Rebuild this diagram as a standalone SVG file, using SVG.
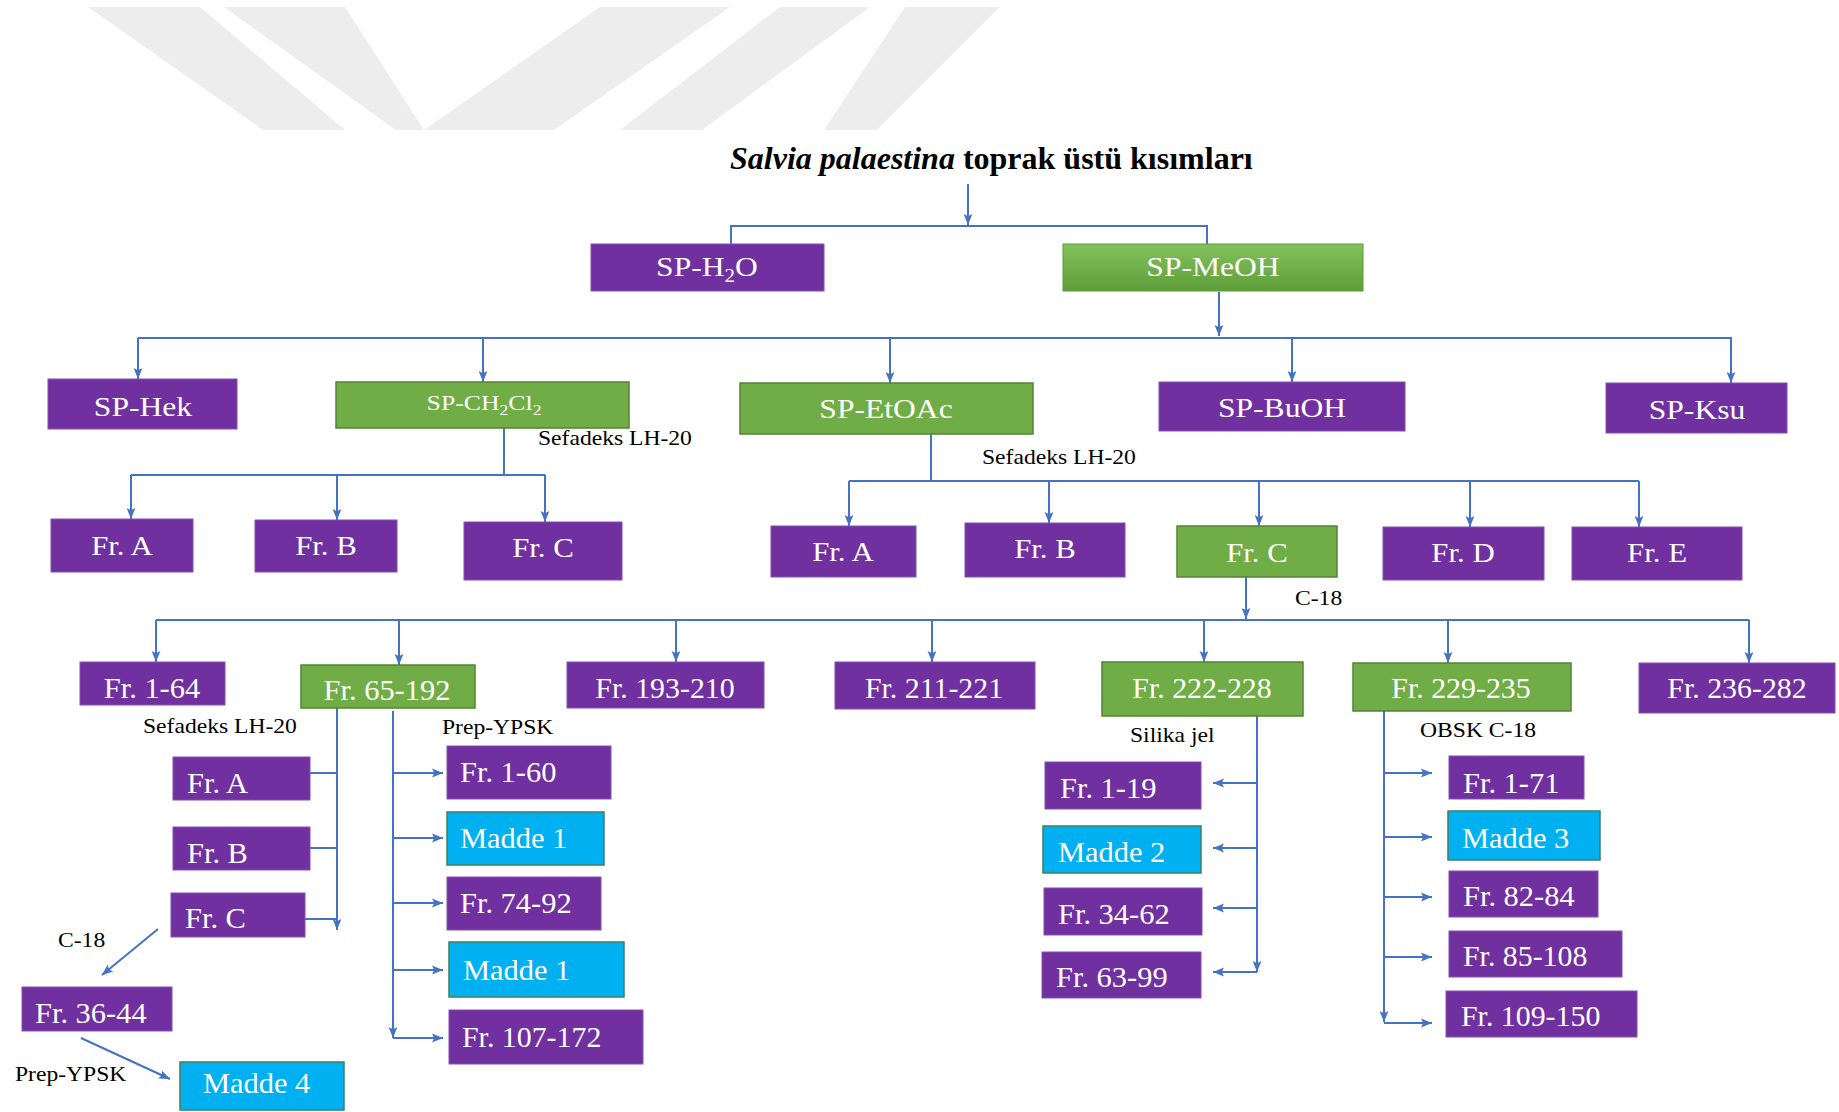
<svg xmlns="http://www.w3.org/2000/svg" width="1839" height="1112" viewBox="0 0 1839 1112">
<defs>
<marker id="ah" viewBox="0 0 10 10" refX="10" refY="5" markerWidth="11" markerHeight="11" markerUnits="userSpaceOnUse" orient="auto">
<path d="M0,1 L10,5 L0,9 L2,5 z" fill="#4472C4"/>
</marker>
<linearGradient id="gG" x1="0" y1="0" x2="0" y2="1">
<stop offset="0" stop-color="#84c25c"/>
<stop offset="1" stop-color="#5f9d3a"/>
</linearGradient>
</defs>
<style>
.p{fill:#7030A0;stroke:#8450b0;stroke-width:1}
.g{fill:#70AD47;stroke:#548235;stroke-width:1.5}
.c{fill:#00B0F0;stroke:#3f7f62;stroke-width:1.5}
text{font-family:"Liberation Serif","Times New Roman",serif}
.w{fill:#fff}
.m{text-anchor:middle}
.t1{font-size:27px}
.t3{font-size:28px}
.t4{font-size:29px}
.lb{font-size:20px;fill:#000}
.cn path{stroke:#4472C4;stroke-width:2;fill:none}
.a{marker-end:url(#ah)}
.wm{fill:#ededed}
</style>
<rect width="1839" height="1112" fill="#fff"/>
<g id="watermark">
<polygon class="wm" points="88,7 200,7 345,130 263,130"/>
<polygon class="wm" points="224,7 345,7 424,130 396,130"/>
<polygon class="wm" points="600,7 730,7 554,130 424,130"/>
<polygon class="wm" points="780,7 870,7 702,130 620,130"/>
<polygon class="wm" points="905,7 1000,7 877,130 824,130"/>
</g>
<text id="title" x="730" y="169" font-size="32" font-weight="bold" fill="#000"><tspan font-style="italic">Salvia palaestina</tspan> toprak üstü kısımları</text>

<g class="cn" id="connectors">
<path class="a" d="M968,184 V225"/>
<path d="M731,244 V226 H1207 V244"/>
<path class="a" d="M1219,292 V336"/>
<path d="M138,338 H1732"/>
<path class="a" d="M138,338 V379"/>
<path class="a" d="M483,338 V382"/>
<path class="a" d="M890,338 V383"/>
<path class="a" d="M1292,338 V382"/>
<path class="a" d="M1731,338 V383"/>
<path d="M504,428 V475 M131,475 H545"/>
<path class="a" d="M131,475 V519"/>
<path class="a" d="M337,475 V520"/>
<path class="a" d="M545,475 V522"/>
<path d="M931,434 V481 M849,481 H1639"/>
<path class="a" d="M849,481 V526"/>
<path class="a" d="M1049,481 V523"/>
<path class="a" d="M1259,481 V526"/>
<path class="a" d="M1470,481 V527"/>
<path class="a" d="M1639,481 V527"/>
<path class="a" d="M1246,577 V619"/>
<path d="M156,620 H1749"/>
<path class="a" d="M156,620 V662"/>
<path class="a" d="M399,620 V665"/>
<path class="a" d="M676,620 V662"/>
<path class="a" d="M932,620 V662"/>
<path class="a" d="M1204,620 V662"/>
<path class="a" d="M1448,620 V663"/>
<path class="a" d="M1749,620 V663"/>
<path class="a" d="M337,708 V930"/>
<path d="M310,773 H337 M310,848 H337 M305,919 H337"/>
<path class="a" d="M158,929 L102,975"/>
<path class="a" d="M81,1038 L170,1079"/>
<path class="a" d="M393,711 V1038"/>
<path class="a" d="M393,773 H443"/>
<path class="a" d="M393,838 H443"/>
<path class="a" d="M393,903 H443"/>
<path class="a" d="M393,970 H443"/>
<path class="a" d="M393,1038 H443"/>
<path class="a" d="M1257,716 V972"/>
<path class="a" d="M1257,783 H1213"/>
<path class="a" d="M1257,848 H1213"/>
<path class="a" d="M1257,908 H1213"/>
<path class="a" d="M1257,972 H1213"/>
<path class="a" d="M1384,711 V1022"/>
<path class="a" d="M1384,773 H1432"/>
<path class="a" d="M1384,837 H1432"/>
<path class="a" d="M1384,897 H1432"/>
<path class="a" d="M1384,957 H1432"/>
<path class="a" d="M1384,1023 H1432"/>
</g>

<g id="labels">
<text class="lb" transform="translate(538,445) scale(1.18,1)">Sefadeks LH-20</text>
<text class="lb" transform="translate(982,464) scale(1.18,1)">Sefadeks LH-20</text>
<text class="lb" transform="translate(1295,605) scale(1.18,1)">C-18</text>
<text class="lb" transform="translate(143,733) scale(1.18,1)">Sefadeks LH-20</text>
<text class="lb" transform="translate(442,734) scale(1.18,1)">Prep-YPSK</text>
<text class="lb" transform="translate(58,947) scale(1.18,1)">C-18</text>
<text class="lb" transform="translate(15,1081) scale(1.18,1)">Prep-YPSK</text>
<text class="lb" transform="translate(1130,742) scale(1.18,1)">Silika jel</text>
<text class="lb" transform="translate(1420,737) scale(1.18,1)">OBSK C-18</text>
</g>

<g id="n-h2o"><rect class="p" x="591" y="244" width="233" height="47"/><text class="w t1 m" transform="translate(707,276) scale(1.17,1)">SP-H<tspan font-size="18" dy="6">2</tspan><tspan dy="-6">O</tspan></text></g>
<g id="n-meoh"><rect x="1063" y="244" width="300" height="47" fill="url(#gG)" stroke="#5e9a3a" stroke-width="1"/><text class="w t1 m" transform="translate(1213,276) scale(1.17,1)">SP-MeOH</text></g>

<g id="n-hek"><rect class="p" x="48" y="379" width="189" height="50"/><text class="w t1 m" transform="translate(143,416) scale(1.17,1)">SP-Hek</text></g>
<g id="n-ch2cl2"><rect class="g" x="336" y="382" width="293" height="46"/><text class="w m" font-size="22" transform="translate(484,410) scale(1.17,1)">SP-CH<tspan font-size="15" dy="5">2</tspan><tspan dy="-5">Cl</tspan><tspan font-size="15" dy="5">2</tspan></text></g>
<g id="n-etoac"><rect class="g" x="740" y="383" width="293" height="51"/><text class="w t1 m" transform="translate(886,418) scale(1.17,1)">SP-EtOAc</text></g>
<g id="n-buoh"><rect class="p" x="1159" y="382" width="246" height="49"/><text class="w t1 m" transform="translate(1282,417) scale(1.17,1)">SP-BuOH</text></g>
<g id="n-ksu"><rect class="p" x="1606" y="383" width="181" height="50"/><text class="w t1 m" transform="translate(1697,419) scale(1.17,1)">SP-Ksu</text></g>

<g id="n-d-a"><rect class="p" x="51" y="519" width="142" height="53"/><text class="w t3 m" transform="translate(122,555) scale(1.1,1)">Fr. A</text></g>
<g id="n-d-b"><rect class="p" x="255" y="520" width="142" height="52"/><text class="w t3 m" transform="translate(326,555) scale(1.1,1)">Fr. B</text></g>
<g id="n-d-c"><rect class="p" x="464" y="522" width="158" height="58"/><text class="w t3 m" transform="translate(543,557) scale(1.1,1)">Fr. C</text></g>

<g id="n-e-a"><rect class="p" x="771" y="526" width="145" height="51"/><text class="w t3 m" transform="translate(843,561) scale(1.1,1)">Fr. A</text></g>
<g id="n-e-b"><rect class="p" x="965" y="523" width="160" height="54"/><text class="w t3 m" transform="translate(1045,558) scale(1.1,1)">Fr. B</text></g>
<g id="n-e-c"><rect class="g" x="1177" y="526" width="160" height="51"/><text class="w t3 m" transform="translate(1257,562) scale(1.1,1)">Fr. C</text></g>
<g id="n-e-d"><rect class="p" x="1383" y="527" width="161" height="53"/><text class="w t3 m" transform="translate(1463,562) scale(1.1,1)">Fr. D</text></g>
<g id="n-e-e"><rect class="p" x="1572" y="527" width="170" height="53"/><text class="w t3 m" transform="translate(1657,562) scale(1.1,1)">Fr. E</text></g>

<g id="n-1-64"><rect class="p" x="80" y="662" width="145" height="43"/><text class="w t4 m" transform="translate(152,698) scale(1.05,1)">Fr. 1-64</text></g>
<g id="n-65-192"><rect class="g" x="301" y="665" width="174" height="43"/><text class="w t4 m" transform="translate(387,700) scale(1.05,1)">Fr. 65-192</text></g>
<g id="n-193-210"><rect class="p" x="567" y="662" width="197" height="46"/><text class="w t4 m" transform="translate(665,698) scale(1.03,1)">Fr. 193-210</text></g>
<g id="n-211-221"><rect class="p" x="835" y="662" width="200" height="47"/><text class="w t4 m" transform="translate(934,698) scale(1.03,1)">Fr. 211-221</text></g>
<g id="n-222-228"><rect class="g" x="1102" y="662" width="201" height="54"/><text class="w t4 m" transform="translate(1202,698) scale(1.03,1)">Fr. 222-228</text></g>
<g id="n-229-235"><rect class="g" x="1353" y="663" width="218" height="48"/><text class="w t4 m" transform="translate(1461,698) scale(1.03,1)">Fr. 229-235</text></g>
<g id="n-236-282"><rect class="p" x="1639" y="663" width="196" height="50"/><text class="w t4 m" transform="translate(1737,698) scale(1.03,1)">Fr. 236-282</text></g>

<g id="n-s-a"><rect class="p" x="173" y="757" width="137" height="43"/><text class="w t4" transform="translate(187,793) scale(1.05,1)">Fr. A</text></g>
<g id="n-s-b"><rect class="p" x="173" y="827" width="137" height="43"/><text class="w t4" transform="translate(187,863) scale(1.05,1)">Fr. B</text></g>
<g id="n-s-c"><rect class="p" x="171" y="893" width="134" height="44"/><text class="w t4" transform="translate(185,928) scale(1.05,1)">Fr. C</text></g>
<g id="n-36-44"><rect class="p" x="22" y="987" width="150" height="44"/><text class="w t4" transform="translate(35,1023) scale(1.05,1)">Fr. 36-44</text></g>
<g id="n-madde4"><rect class="c" x="180" y="1062" width="164" height="48"/><text class="w t4" transform="translate(203,1093) scale(1.05,1)">Madde 4</text></g>

<g id="n-1-60"><rect class="p" x="447" y="746" width="164" height="53"/><text class="w t4" transform="translate(460,782) scale(1.05,1)">Fr. 1-60</text></g>
<g id="n-madde1a"><rect class="c" x="447" y="812" width="157" height="53"/><text class="w t4" transform="translate(460,848) scale(1.05,1)">Madde 1</text></g>
<g id="n-74-92"><rect class="p" x="447" y="877" width="154" height="53"/><text class="w t4" transform="translate(460,913) scale(1.05,1)">Fr. 74-92</text></g>
<g id="n-madde1b"><rect class="c" x="449" y="942" width="175" height="55"/><text class="w t4" transform="translate(463,980) scale(1.05,1)">Madde 1</text></g>
<g id="n-107-172"><rect class="p" x="449" y="1010" width="194" height="54"/><text class="w t4" transform="translate(462,1047) scale(1.03,1)">Fr. 107-172</text></g>

<g id="n-1-19"><rect class="p" x="1045" y="762" width="156" height="47"/><text class="w t4" transform="translate(1060,798) scale(1.05,1)">Fr. 1-19</text></g>
<g id="n-madde2"><rect class="c" x="1043" y="826" width="158" height="47"/><text class="w t4" transform="translate(1058,862) scale(1.05,1)">Madde 2</text></g>
<g id="n-34-62"><rect class="p" x="1044" y="888" width="158" height="47"/><text class="w t4" transform="translate(1058,924) scale(1.05,1)">Fr. 34-62</text></g>
<g id="n-63-99"><rect class="p" x="1042" y="952" width="159" height="46"/><text class="w t4" transform="translate(1056,987) scale(1.05,1)">Fr. 63-99</text></g>

<g id="n-1-71"><rect class="p" x="1449" y="756" width="135" height="43"/><text class="w t4" transform="translate(1463,793) scale(1.05,1)">Fr. 1-71</text></g>
<g id="n-madde3"><rect class="c" x="1448" y="811" width="152" height="49"/><text class="w t4" transform="translate(1462,848) scale(1.05,1)">Madde 3</text></g>
<g id="n-82-84"><rect class="p" x="1449" y="871" width="149" height="46"/><text class="w t4" transform="translate(1463,906) scale(1.05,1)">Fr. 82-84</text></g>
<g id="n-85-108"><rect class="p" x="1449" y="931" width="173" height="46"/><text class="w t4" transform="translate(1463,966) scale(1.03,1)">Fr. 85-108</text></g>
<g id="n-109-150"><rect class="p" x="1446" y="991" width="191" height="46"/><text class="w t4" transform="translate(1461,1026) scale(1.03,1)">Fr. 109-150</text></g>
</svg>
